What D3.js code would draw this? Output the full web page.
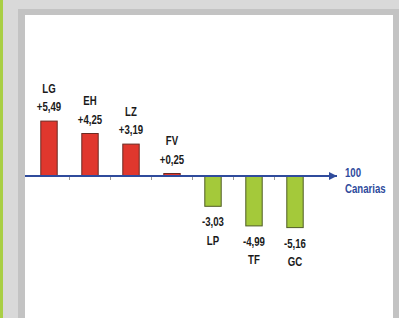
<!DOCTYPE html>
<html>
<head>
<meta charset="utf-8">
<script src="https://cdn.jsdelivr.net/npm/d3@7.9.0/dist/d3.min.js"></script>
<style>
  html, body { margin: 0; padding: 0; background: #fff; }
  svg { display: block; }
  text { font-family: "Liberation Sans", Arial, sans-serif; font-weight: bold; }
</style>
</head>
<body>
<svg id="chart" width="399" height="318"></svg>
<script>
// data
const categories = ['LG', 'EH', 'LZ', 'FV', 'LP', 'TF', 'GC'];
const values = [5.49, 4.25, 3.19, 0.25, -3.03, -4.99, -5.16];
const valueLabels = ['+5,49', '+4,25', '+3,19', '+0,25', '-3,03', '-4,99', '-5,16'];
const baseLabel = ['100', 'Canarias'];

const svg = d3.select('#chart');
const narrow = 0.77; // the original uses a condensed face

// frame around the chart
svg.append('rect').attr('width', 399).attr('height', 318).attr('fill', '#d9d9d9');
svg.append('rect').attr('width', 3).attr('height', 318).attr('fill', '#a9cf45');
svg.append('rect').attr('x', 18).attr('y', 9).attr('width', 381).attr('height', 309).attr('fill', '#c3c3c3');
svg.append('rect').attr('x', 25).attr('y', 15).attr('width', 368).attr('height', 303).attr('fill', '#fff');

const x = d3.scaleBand()
  .domain(categories)
  .range([28.5, 315.5])
  .paddingInner(0.6)
  .paddingOuter(0.3);

const y = d3.scaleLinear().domain([-6, 6]).range([236, 116]);
const y0 = y(0);
const gap = x.step() - x.bandwidth();

// tick marks between categories
svg.selectAll('line.tick')
  .data(categories.slice(1))
  .join('line')
  .attr('class', 'tick')
  .attr('x1', d => x(d) - gap / 2)
  .attr('x2', d => x(d) - gap / 2)
  .attr('y1', y0)
  .attr('y2', y0 + 4)
  .attr('stroke', '#9a9a9a')
  .attr('stroke-width', 1);

// bars
const rows = categories.map((c, i) => ({ cat: c, value: values[i], label: valueLabels[i] }));
svg.selectAll('rect.bar')
  .data(rows)
  .join('rect')
  .attr('class', 'bar')
  .attr('x', d => x(d.cat))
  .attr('width', x.bandwidth())
  .attr('y', d => Math.min(y(d.value), y0))
  .attr('height', d => Math.abs(y(d.value) - y0))
  .attr('fill', d => d.value >= 0 ? '#e0372d' : '#a4c93a')
  .attr('stroke', d => d.value >= 0 ? '#6b2a22' : '#4f5c25')
  .attr('stroke-width', 1);

// axis line with arrow
svg.append('defs').append('marker')
  .attr('id', 'arrow')
  .attr('viewBox', '0 0 10 10')
  .attr('refX', 10).attr('refY', 5)
  .attr('markerWidth', 4).attr('markerHeight', 4)
  .attr('markerUnits', 'strokeWidth')
  .attr('orient', 'auto')
  .append('path').attr('d', 'M0,0L10,5L0,10z').attr('fill', '#2f4b9c');

svg.append('line')
  .attr('x1', 25).attr('x2', 337)
  .attr('y1', y0).attr('y2', y0)
  .attr('stroke', '#2f4b9c')
  .attr('stroke-width', 2)
  .attr('marker-end', 'url(#arrow)');

// labels
const cx = d => x(d.cat) + x.bandwidth() / 2;
svg.selectAll('text.val')
  .data(rows)
  .join('text')
  .attr('class', 'val')
  .attr('transform', d => `translate(${cx(d)},${d.value >= 0 ? y(d.value) - 10 : y(d.value) + 20}) scale(${narrow},1)`)
  .attr('text-anchor', 'middle')
  .attr('font-size', 12.5)
  .attr('fill', '#1a1a1a')
  .text(d => d.label);

svg.selectAll('text.cat')
  .data(rows)
  .join('text')
  .attr('class', 'cat')
  .attr('transform', d => `translate(${cx(d)},${d.value >= 0 ? y(d.value) - 28.5 : y(d.value) + 38.5}) scale(${narrow},1)`)
  .attr('text-anchor', 'middle')
  .attr('font-size', 12.5)
  .attr('fill', '#1a1a1a')
  .text(d => d.cat);

svg.selectAll('text.base')
  .data(baseLabel)
  .join('text')
  .attr('class', 'base')
  .attr('transform', (d, i) => `translate(345,${y0 + 1 + i * 16}) scale(${narrow},1)`)
  .attr('font-size', 12.5)
  .attr('fill', '#2f4b9c')
  .text(d => d);
</script>
</body>
</html>
